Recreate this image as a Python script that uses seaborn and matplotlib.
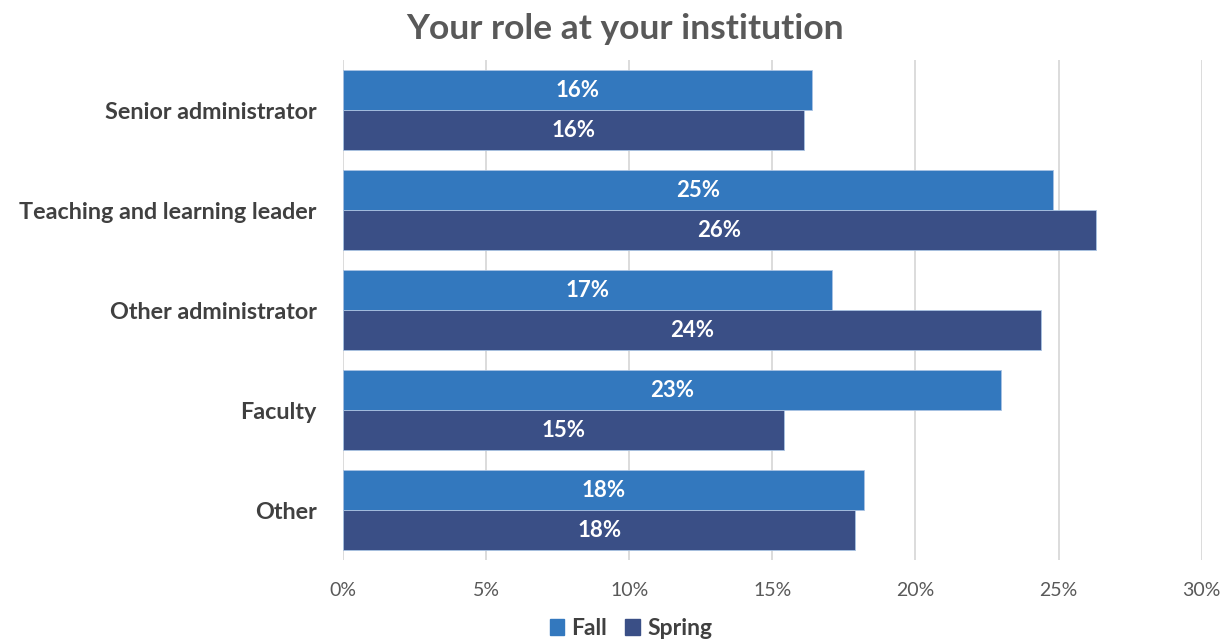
import matplotlib
matplotlib.use("Agg")
import matplotlib.pyplot as plt
import matplotlib.ticker as mticker
import seaborn as sns
import pandas as pd

roles = ["Senior administrator", "Teaching and learning leader",
         "Other administrator", "Faculty", "Other"]
fall = [16.4, 24.8, 17.1, 23.0, 18.2]
spring = [16.1, 26.3, 24.4, 15.4, 17.9]
seasons = ["Fall", "Spring"]
ticks = [0, 5, 10, 15, 20, 25, 30]

df = pd.DataFrame({
    "role": roles * 2,
    "season": ["Fall"] * len(roles) + ["Spring"] * len(roles),
    "pct": fall + spring,
})

sns.set_theme(style="white")
plt.rcParams["font.family"] = ["Lato", "DejaVu Sans"]

fig = plt.figure(figsize=(12.25, 6.39), dpi=100)
ax = fig.add_axes([0.28, 0.1236, 0.701, 0.7824])

palette = {"Fall": "#3378BE", "Spring": "#3A4F86"}
sns.barplot(data=df, y="role", x="pct", hue="season", order=roles,
            hue_order=seasons, palette=palette, orient="h", width=0.8,
            edgecolor="#A9C3E3", linewidth=0.6, saturation=1, ax=ax, legend=True)

for cont in ax.containers:
    vals = cont.datavalues
    ax.bar_label(cont, labels=[f"{v:.0f}%" for v in vals], label_type="center",
                 color="white", fontsize=16, fontweight="bold")

ax.set_xlim(0, 30)
ax.set_xticks(ticks)
ax.xaxis.set_major_formatter(mticker.FuncFormatter(lambda v, p: f"{v:.0f}%"))
ax.grid(axis="x", color="#D9D9D9", linewidth=1.3)
ax.set_axisbelow(True)
for s in ax.spines.values():
    s.set_visible(False)
ax.set_xlabel("")
ax.set_ylabel("")
ax.tick_params(axis="x", colors="#595959", labelsize=14, length=0, pad=16)
ax.tick_params(axis="y", length=0, pad=19)
for lab in ax.get_yticklabels():
    lab.set_fontweight("bold")
    lab.set_fontsize(16.8)
    lab.set_color("#404040")
for lab in ax.get_xticklabels():
    lab.set_color("#595959")

ax.legend_.remove()
handles = [plt.Rectangle((0, 0), 1, 1, color=palette[s]) for s in seasons]
leg = fig.legend(handles, seasons, loc="center", bbox_to_anchor=(0.515, 0.016),
                 ncol=2, frameon=False, handlelength=0.65, handleheight=0.7,
                 handletextpad=0.3, columnspacing=0.8,
                 prop={"weight": "bold", "size": 16.5})
for t in leg.get_texts():
    t.set_color("#404040")

fig.text(0.51, 0.955, "Your role at your institution", ha="center", va="center",
         fontsize=25.5, fontweight="bold", color="#595959")

fig.savefig("out.png", dpi=100, facecolor="white")
